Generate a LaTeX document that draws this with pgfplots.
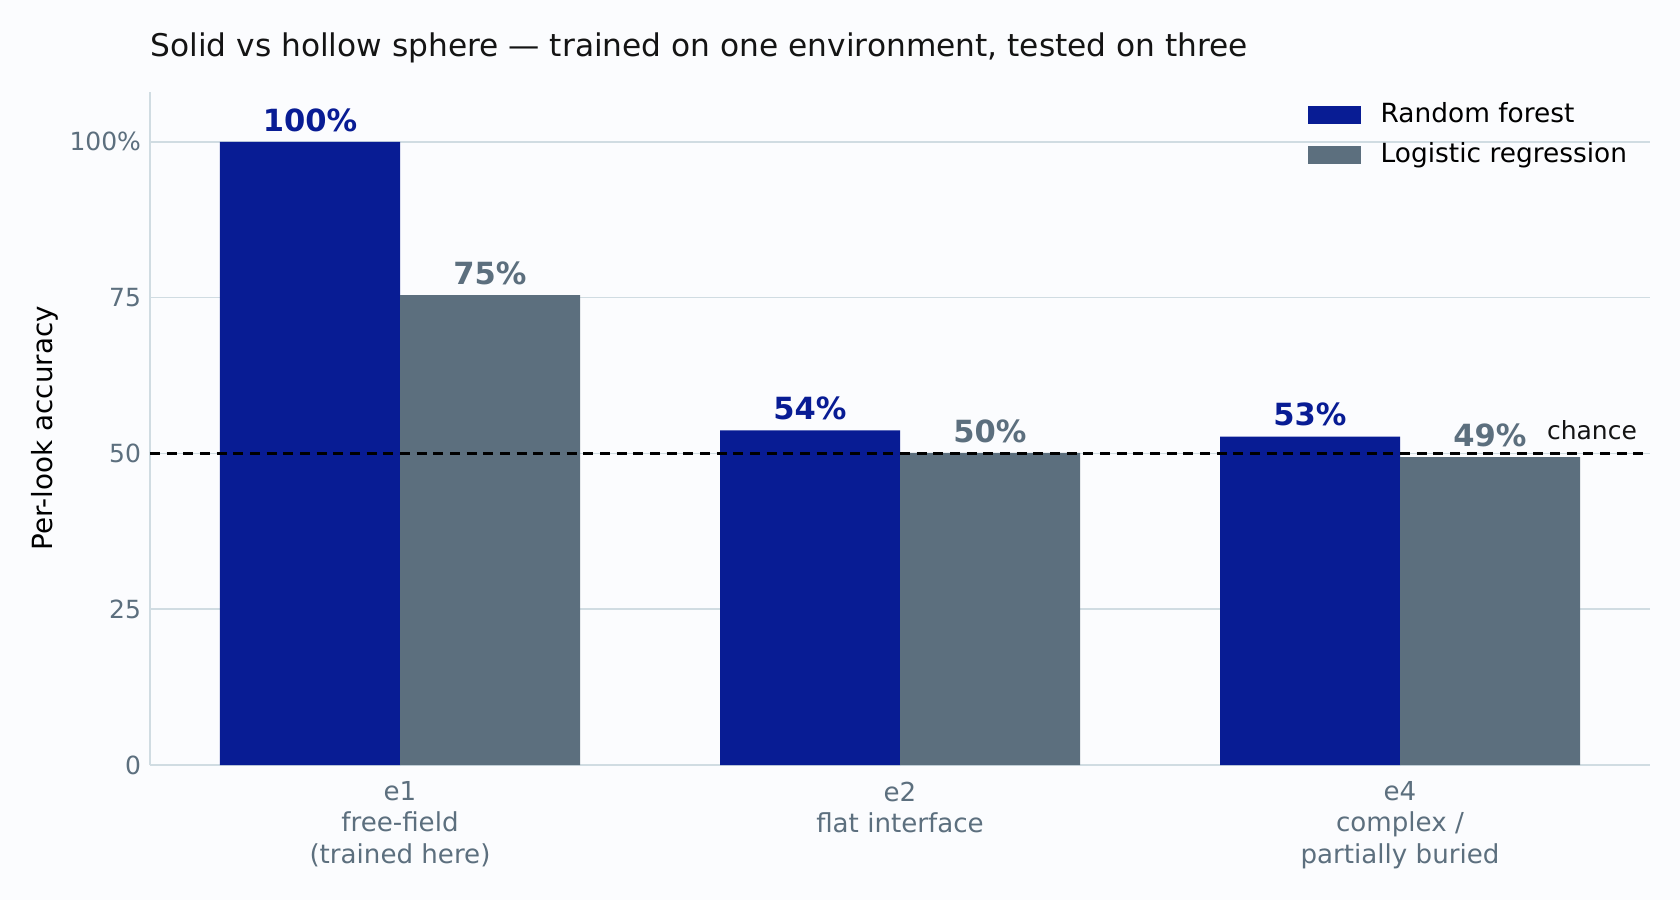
\documentclass[border=0pt]{standalone}
\usepackage{fontspec}
\setmainfont{DejaVu Sans}
\usepackage{pgfplots}
\pgfplotsset{compat=1.18}
\definecolor{rf}{RGB}{8,28,148}
\definecolor{lr}{RGB}{92,111,126}
\definecolor{gridc}{RGB}{208,220,226}
\definecolor{bg}{RGB}{251,252,254}
\definecolor{tickc}{RGB}{92,111,126}
\begin{document}
\begin{tikzpicture}
\fill[bg] (-54pt,-48.6pt) rectangle (550.8pt,275.4pt);
\begin{axis}[
  at={(0,0)}, anchor=south west, scale only axis,
  width=540pt, height=242.3pt,
  ybar=0pt, bar width=0.36,
  xmin=-0.5, xmax=2.5, ymin=0, ymax=108,
  xtick={0,1,2},
  xticklabels={{e1\\free-field\\(trained here)},{e2\\flat interface},{e4\\complex /\\partially buried}},
  ytick={0,25,50,75,100}, yticklabels={0,25,50,75,100\%},
  major tick length=0pt,
  axis x line*=bottom, axis y line*=left,
  x axis line style={-}, y axis line style={-},
  axis line style={gridc, line width=0.8pt},
  ymajorgrids, grid style={gridc, line width=0.6pt},
  /pgf/number format/assume math mode=true,
  xticklabel style={align=center, text=tickc, font=\fontsize{9.4}{11.2}\selectfont, yshift=-2.5pt},
  yticklabel style={text=tickc, font=\fontsize{9}{11}\selectfont, xshift=0.3pt},
  every axis y label/.style={at={(axis description cs:-0.070,0.5)}, rotate=90, anchor=center, font=\fontsize{10}{12}\selectfont},
  ylabel={Per-look accuracy},
  title={Solid vs hollow sphere — trained on one environment, tested on three},
  title style={at={(axis description cs:0,1)}, anchor=base west, yshift=6.9pt, inner sep=0pt, font=\fontsize{11.25}{13}\selectfont, text=black!92},
  legend style={at={(axis description cs:0.985,0.985)}, anchor=north east, draw=none, fill=none,
     font=\fontsize{9.5}{11}\selectfont, inner sep=0pt, row sep=5.8pt,
     nodes={inner sep=0pt},
     /tikz/every odd column/.append style={column sep=7pt}},
  legend cell align=left,
  legend image code/.code={\fill[#1] (0pt,-3.2pt) rectangle (19pt,3.2pt);},
  nodes near coords={\pgfmathprintnumber[fixed,precision=0]{\pgfplotspointmeta}\%},
  every node near coord/.append style={font=\bfseries\fontsize{11}{13}\selectfont, inner sep=0pt, yshift=3.5pt},
]
\addplot[fill=rf, draw=none, nodes near coords style={text=rf}] coordinates {(0,100) (1,53.7) (2,52.7)};
\addlegendentry{Random forest}
\addplot[fill=lr, draw=none, nodes near coords style={text=lr}] coordinates {(0,75.4) (1,50.1) (2,49.4)};
\addlegendentry{Logistic regression}
\addplot[sharp plot, black, line width=1.1pt, dash pattern=on 3.6pt off 2.4pt, forget plot, nodes near coords=] coordinates {(-0.5,50) (2.5,50)};
\node[anchor=base east, inner sep=0pt, font=\fontsize{9}{11}\selectfont, text=black!92] at (axis cs:2.475,52.3) {chance};
\end{axis}
\pgfresetboundingbox
\path (-54pt,-48.6pt) rectangle (550.8pt,275.4pt);
\end{tikzpicture}
\end{document}
